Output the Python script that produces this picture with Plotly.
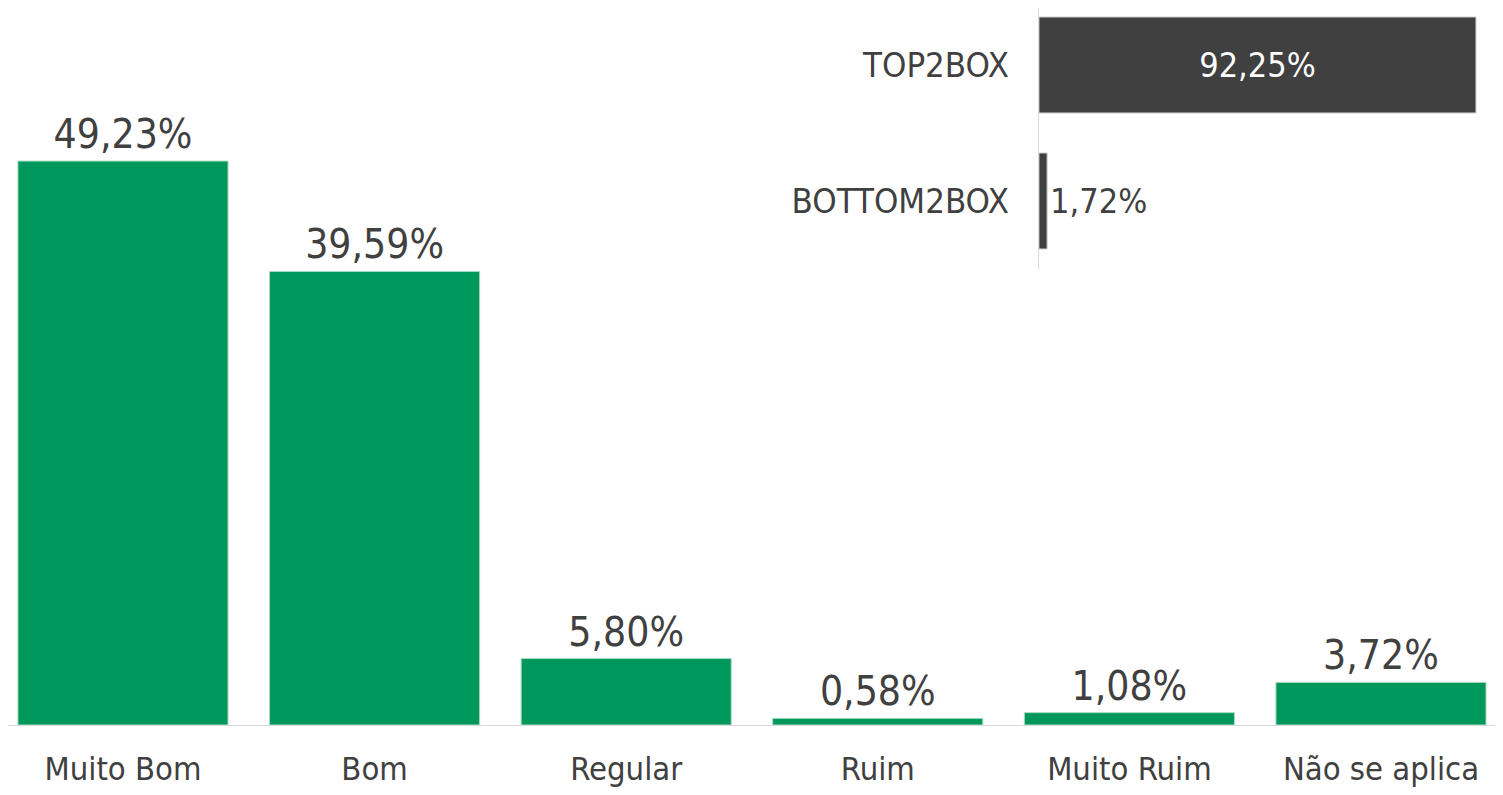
import plotly.graph_objects as go

categories = ["Muito Bom", "Bom", "Regular", "Ruim", "Muito Ruim", "Não se aplica"]
values = [49.23, 39.59, 5.80, 0.58, 1.08, 3.72]

box_labels = ["TOP2BOX", "BOTTOM2BOX"]
box_values = [92.25, 1.72]

GREEN = "#00985A"
DARK = "#404040"
TEXT = "#404040"
FONT = "Tahoma, 'DejaVu Sans Condensed', 'DejaVu Sans', sans-serif"

def pct(v):
    return f"{v:.2f}%".replace(".", ",")

fig = go.Figure()

fig.add_trace(go.Bar(
    x=categories, y=values,
    marker=dict(color=GREEN, line=dict(color="#a8dcc4", width=1)),
    text=[pct(v) for v in values], textposition="outside",
    textfont=dict(size=40.5, color=TEXT, family=FONT),
    cliponaxis=False, xaxis="x", yaxis="y", showlegend=False,
))

fig.add_trace(go.Bar(
    y=box_labels, x=box_values, orientation="h",
    width=[0.706, 0.706],
    marker=dict(color=DARK, line=dict(color="#d0d0d0", width=1)),
    text=[pct(v) for v in box_values],
    textposition=["inside", "outside"],
    insidetextanchor="middle",
    textfont=dict(size=34, family=FONT, color=["#ffffff", TEXT]),
    cliponaxis=False, xaxis="x2", yaxis="y2", showlegend=False,
))

fig.update_layout(
    width=1495, height=787,
    margin=dict(l=0, r=0, t=0, b=70),
    paper_bgcolor="white", plot_bgcolor="rgba(0,0,0,0)",
    bargap=0.165,
    font=dict(family=FONT, color=TEXT),
    xaxis=dict(domain=[0, 1], range=[-0.457, 5.485], showgrid=False, zeroline=False,
               showline=True, linecolor="#d9d9d9", linewidth=1, ticks="",
               tickfont=dict(size=32.5, color=TEXT, family=FONT), ticklabelstandoff=15),
    yaxis=dict(domain=[0, 1], range=[0, 62.59], visible=False, showgrid=False, zeroline=False),
    xaxis2=dict(domain=[0.6896, 1.0], range=[0, 97.95], visible=False, anchor="y2",
                showgrid=False, zeroline=False),
    yaxis2=dict(domain=[0.636, 1.0], anchor="x2", range=[1.5, -0.419], showgrid=False,
                zeroline=False, showline=True, linecolor="#d9d9d9", linewidth=1, ticks="",
                tickfont=dict(size=34.5, color=TEXT, family=FONT), ticklabelstandoff=22),
)

fig.write_html("out.html")
